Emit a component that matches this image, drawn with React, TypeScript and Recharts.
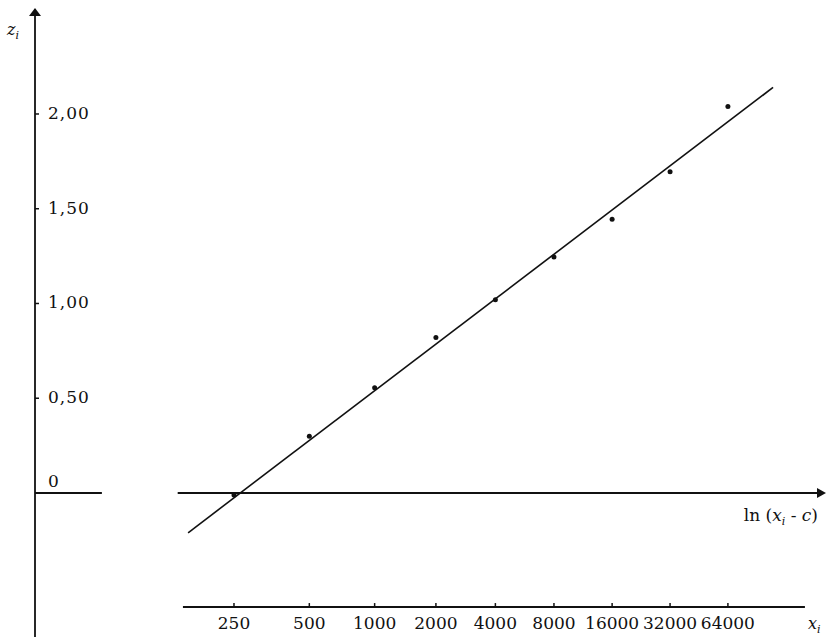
import React from 'react';
import { ComposedChart, XAxis, YAxis, Line, Scatter, ReferenceLine, ReferenceDot } from 'recharts';

// the horizontal scale is ln(x_i - c)
const C_SHIFT = 80;

const xValues = [250, 500, 1000, 2000, 4000, 8000, 16000, 32000, 64000];
const xLabels = ['250', '500', '1000', '2000', '4000', '8000', '16000', '32000', '64000'];
const zValues = [-0.01, 0.3, 0.555, 0.82, 1.02, 1.245, 1.445, 1.695, 2.04];

const zTicks = [0, 0.5, 1, 1.5, 2];
const zTickLabels = ['0', '0,50', '1,00', '1,50', '2,00'];

// fitted straight line, read at its two ends (x_i, z_i)
const fitX = [178, 110000];
const fitZ = [-0.21, 2.14];

// axis extents, in ln(x - c) units and z units
const U_MIN = 2.747;
const U_MAX = 12.243;
const Z_MIN = -0.76;
const Z_MAX = 2.554;
const ZERO_LEFT_END = 3.55;
const ZERO_RIGHT_START = 4.46;
const LOWER_AXIS_Z = -0.602;
const LOWER_AXIS_FROM = 4.523;
const LOWER_AXIS_TO = 11.99;

const toU = (x: number) => Math.log(x - C_SHIFT);

const points = xValues.map((x, i) => ({ u: toU(x), z: zValues[i] }));
const fitLine = fitX.map((x, i) => ({ u: toU(x), z: fitZ[i] }));

const FONT = '"DejaVu Serif", "Liberation Serif", serif';
const INK = '#111';
const AXIS_W = 1.8;

const Dot = (props: any) => <circle cx={props.cx} cy={props.cy} r={2.5} fill={INK} />;

const UpArrow = ({ cx, cy }: any) => (
    <g>
        <path d={`M${cx},${cy - 1} L${cx - 6},${cy + 7} L${cx + 6},${cy + 7} Z`} fill={INK} />
        <text x={cx - 28} y={cy + 26} fontFamily={FONT} fontSize={16} fill={INK}>
            <tspan fontStyle="italic">z</tspan>
            <tspan fontStyle="italic" fontSize={11} dy={4}>i</tspan>
        </text>
    </g>
);

const RightArrow = ({ cx, cy }: any) => (
    <g>
        <path d={`M${cx},${cy} L${cx - 9},${cy - 5} L${cx - 9},${cy + 5} Z`} fill={INK} />
        <text x={cx - 8} y={cy + 28} textAnchor="end" fontFamily={FONT} fontSize={17} fill={INK}>
            ln (<tspan fontStyle="italic">x</tspan>
            <tspan fontStyle="italic" fontSize={11} dy={4}>i</tspan>
            <tspan dy={-4}> - </tspan>
            <tspan fontStyle="italic">c</tspan>)
        </text>
    </g>
);

const XiLabel = ({ cx, cy }: any) => (
    <text x={cx + 3} y={cy + 22} fontFamily={FONT} fontSize={16} fill={INK}>
        <tspan fontStyle="italic">x</tspan>
        <tspan fontStyle="italic" fontSize={11} dy={4}>i</tspan>
    </text>
);

// tick mark + label on the z axis
const makeZTick = (label: string, isZero: boolean) => ({ cx, cy }: any) => (
    <g>
        {!isZero && <line x1={cx} y1={cy} x2={cx + 4} y2={cy} stroke={INK} strokeWidth={1.5} />}
        <text
            x={cx + 13}
            y={isZero ? cy - 6 : cy + 5}
            fontFamily={FONT}
            fontSize={17}
            letterSpacing={1}
            fill={INK}
        >
            {label}
        </text>
    </g>
);

// tick mark + label on the lower x_i scale
const makeXTick = (label: string) => ({ cx, cy }: any) => (
    <g>
        <line x1={cx} y1={cy} x2={cx} y2={cy - 4} stroke={INK} strokeWidth={1.5} />
        <text x={cx} y={cy + 22} textAnchor="middle" fontFamily={FONT} fontSize={17} fill={INK}>
            {label}
        </text>
    </g>
);

export default function App() {
    return (
        <div style={{ width: 826, height: 639, background: '#fff' }}>
            <style>{'body{margin:0}'}</style>
            <ComposedChart width={826} height={639} margin={{ top: 9, right: 0, left: 35, bottom: 2 }}>
                <XAxis type="number" dataKey="u" domain={[U_MIN, U_MAX]} allowDataOverflow hide />
                <YAxis type="number" domain={[Z_MIN, Z_MAX]} allowDataOverflow width={0} hide />

                {/* z axis */}
                <ReferenceLine x={U_MIN} stroke={INK} strokeWidth={AXIS_W} ifOverflow="visible" />

                {/* z = 0 axis, broken near the origin */}
                <ReferenceLine
                    segment={[{ x: U_MIN, y: 0 }, { x: ZERO_LEFT_END, y: 0 }]}
                    stroke={INK}
                    strokeWidth={AXIS_W}
                    ifOverflow="visible"
                />
                <ReferenceLine
                    segment={[{ x: ZERO_RIGHT_START, y: 0 }, { x: U_MAX - 0.05, y: 0 }]}
                    stroke={INK}
                    strokeWidth={AXIS_W}
                    ifOverflow="visible"
                />

                {/* lower scale in x_i */}
                <ReferenceLine
                    segment={[{ x: LOWER_AXIS_FROM, y: LOWER_AXIS_Z }, { x: LOWER_AXIS_TO, y: LOWER_AXIS_Z }]}
                    stroke={INK}
                    strokeWidth={2}
                    ifOverflow="visible"
                />
                {xValues.map((x, i) => (
                    <ReferenceDot
                        key={`xt-${x}`}
                        x={toU(x)}
                        y={LOWER_AXIS_Z}
                        ifOverflow="visible"
                        shape={makeXTick(xLabels[i])}
                    />
                ))}
                <ReferenceDot x={LOWER_AXIS_TO} y={LOWER_AXIS_Z} ifOverflow="visible" shape={XiLabel} />

                {zTicks.map((z, i) => (
                    <ReferenceDot
                        key={`zt-${z}`}
                        x={U_MIN}
                        y={z}
                        ifOverflow="visible"
                        shape={makeZTick(zTickLabels[i], z === 0)}
                    />
                ))}

                <ReferenceDot x={U_MIN} y={Z_MAX} ifOverflow="visible" shape={UpArrow} />
                <ReferenceDot x={U_MAX} y={0} ifOverflow="visible" shape={RightArrow} />

                <Line
                    data={fitLine}
                    dataKey="z"
                    type="linear"
                    stroke={INK}
                    strokeWidth={1.6}
                    dot={false}
                    activeDot={false}
                    isAnimationActive={false}
                />
                <Scatter data={points} dataKey="z" fill={INK} shape={Dot} isAnimationActive={false} />
            </ComposedChart>
        </div>
    );
}
